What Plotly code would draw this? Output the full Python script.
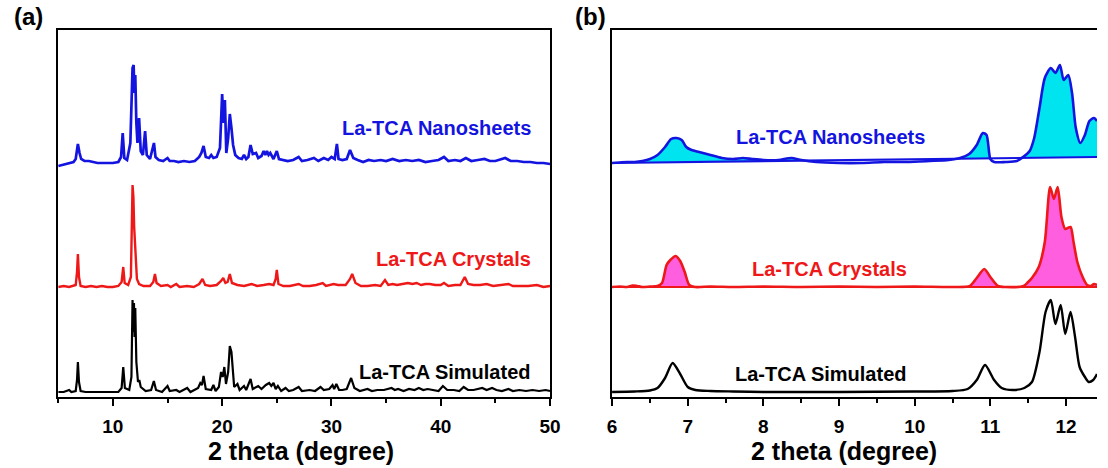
import numpy as np
import plotly.graph_objects as go

# ---------------- Panel (a): 5-50 deg ----------------
nano_a_x = [5.0,5.3,5.6,6.0,6.4,6.6,6.8,6.95,7.1,7.4,7.8,8.2,8.6,9.0,9.5,10.0,10.5,10.75,10.9,11.05,11.3,11.6,11.8,11.9,11.97,12.05,12.15,12.25,12.4,12.55,12.75,12.95,13.1,13.4,13.76,13.9,14.2,14.6,15.0,15.2,15.6,16.0,16.5,17.0,17.5,17.9,18.1,18.3,18.5,18.8,19.0,19.2,19.5,19.8,20.0,20.12,20.25,20.38,20.55,20.7,20.85,21.0,21.2,21.5,21.8,22.0,22.2,22.4,22.6,22.8,23.1,23.3,23.6,23.8,23.95,24.1,24.25,24.4,24.7,25.0,25.2,25.6,26.0,26.5,27.0,27.3,27.8,28.4,28.8,29.3,29.7,30.0,30.3,30.5,30.65,31.0,31.4,31.7,32.0,32.4,32.9,33.4,33.9,34.5,35.0,35.6,36.2,36.8,37.4,38.0,38.6,39.2,39.8,40.3,40.7,41.3,41.8,42.3,42.8,43.4,44.0,44.5,45.0,45.9,46.4,47.0,47.6,48.2,48.8,49.4,50.0]
nano_a_y = [-3,-2,-1,0,1,4,19,10,4,2,2,1,0,0,0,0,1,6,30,5,3,20,95,98,70,88,40,20,45,12,8,32,8,4,20,6,3,2,5,2,2,1,2,1,2,6,10,17,6,5,8,5,6,15,69,40,63,10,25,49,35,18,8,5,4,8,4,6,18,9,10,5,7,12,8,12,8,10,4,12,4,3,2,3,6,2,3,5,2,5,3,6,4,19,4,3,4,13,5,3,1,3,2,3,2,4,2,3,2,3,1,2,3,6,2,3,2,5,2,3,4,2,2,5,2,2,1,1,0,0,-1]

crys_a_x = [5.0,5.5,6.0,6.3,6.6,6.72,6.8,6.9,7.05,7.5,8.0,8.5,9.0,9.5,10.0,10.5,10.8,10.95,11.08,11.4,11.65,11.8,11.88,11.95,12.05,12.2,12.4,12.8,13.4,13.7,13.85,14.0,14.4,15.0,15.3,15.8,16.1,16.8,17.4,17.9,18.2,18.45,18.9,19.5,19.9,20.1,20.3,20.5,20.7,20.9,21.4,22.0,22.7,23.2,23.8,24.3,24.7,24.9,25.0,25.15,25.6,26.2,27.0,27.4,28.0,28.6,29.2,29.5,30.2,30.6,31.3,31.7,31.9,32.2,32.7,33.3,34.0,34.5,34.9,35.2,35.6,36.0,36.5,37.0,37.4,37.8,38.2,38.6,39.0,39.5,40.0,40.3,40.7,41.3,41.8,42.2,42.5,43.0,43.6,44.2,44.8,45.4,46.2,46.6,47.2,48.0,48.8,49.4,50.0]
crys_a_y = [0,1,0,1,2,15,33,10,1,0,1,0,1,0,0,1,5,20,4,2,10,102,90,60,40,8,3,1,1,5,13,4,1,2,0,3,0,1,0,3,8,2,1,2,6,9,4,5,13,4,2,1,3,1,2,3,2,8,17,3,1,1,3,1,1,2,4,1,3,2,2,8,13,4,1,1,2,1,7,2,3,2,3,4,3,4,2,3,3,2,2,4,1,2,2,10,3,2,2,3,1,2,3,1,1,1,2,0,1]

sim_a_x = [5.0,5.5,6.0,6.2,6.6,6.72,6.8,6.9,7.05,7.5,8.5,9.5,10.5,10.8,10.95,11.1,11.5,11.7,11.8,11.87,11.93,11.99,12.05,12.15,12.3,12.42,12.55,13.0,13.5,13.75,13.95,14.5,15.0,15.2,15.8,16.1,16.8,17.1,17.8,18.0,18.15,18.3,18.5,19.0,19.2,19.4,19.7,19.9,20.05,20.2,20.35,20.55,20.7,20.85,20.95,21.1,21.4,21.6,22.0,22.2,22.6,22.8,23.3,23.6,24.0,24.3,24.5,24.7,24.9,25.1,25.4,25.8,26.1,26.5,27.0,27.3,28.0,28.5,29.0,29.3,29.8,30.1,30.25,30.45,30.7,31.0,31.4,31.8,32.1,32.6,33.3,33.7,34.2,34.8,35.5,35.8,36.1,36.6,37.1,37.6,38.0,38.4,38.8,39.3,39.8,40.2,40.6,41.2,41.7,42.1,42.5,43.0,43.5,43.8,44.2,44.7,45.1,45.6,46.2,46.6,47.2,47.8,48.4,49.0,49.6,50.0]
sim_a_y = [0,0,2,0,1,12,30,10,1,0,0,0,0,4,25,4,2,15,92,60,89,55,84,30,10,12,5,1,2,11,2,0,6,1,2,0,4,0,4,9,7,16,3,2,7,1,5,20,15,25,8,20,46,40,25,5,8,2,6,2,13,3,6,3,7,9,6,9,3,6,1,4,1,2,5,1,2,1,5,2,3,7,3,8,2,2,3,14,4,1,3,1,2,2,4,2,3,1,3,2,4,2,3,2,1,6,2,2,1,5,2,2,3,4,2,4,2,1,3,1,2,1,2,1,2,1]

# ---------------- Panel (b): 6-12.4 deg ----------------
nano_b_x = [6.0,6.1,6.2,6.3,6.4,6.5,6.6,6.7,6.78,6.85,6.92,6.98,7.05,7.15,7.3,7.45,7.6,7.73,7.85,8.0,8.2,8.37,8.5,8.7,9.0,9.3,9.6,9.9,10.2,10.45,10.6,10.72,10.82,10.9,10.95,11.0,11.05,11.2,11.35,11.45,11.52,11.58,11.65,11.72,11.8,11.86,11.92,11.97,12.03,12.08,12.13,12.19,12.25,12.31,12.37,12.41]
nano_b_y = [0,0.5,1,1,2,4,8,16,24,25,23,16,13,11,8,5,4,5,4,3,3,5,3,1,0,0,1,1,2,3,5,9,18,30,28,4,1,1,2,7,12,25,55,85,95,90,98,83,88,70,35,20,28,42,45,42]
nano_b_base_x = [6.0, 12.41]
nano_b_base_y = [0, 6]

crys_b_x = [6.0,6.1,6.2,6.27,6.33,6.4,6.5,6.6,6.66,6.72,6.77,6.84,6.9,6.96,7.02,7.1,7.3,7.6,8.0,8.5,9.0,9.5,10.0,10.5,10.73,10.82,10.92,11.0,11.1,11.2,11.44,11.5,11.55,11.64,11.72,11.79,11.84,11.89,11.94,11.99,12.06,12.1,12.15,12.22,12.28,12.33,12.37,12.41]
crys_b_y = [0,0.5,0,1.5,1,0,0.5,1,4,22,27,31,26,15,2,0,0.5,0,0.5,0,0.5,0,0.5,0,1,9,18,10,1,0,1,5,9,20,45,100,88,100,70,58,60,45,25,10,2,1,3,2]

sim_b_x = [6.0,6.3,6.5,6.6,6.7,6.8,6.9,7.0,7.1,7.3,7.6,8.0,9.0,10.0,10.5,10.7,10.82,10.93,11.05,11.15,11.3,11.45,11.55,11.65,11.73,11.8,11.86,11.93,11.99,12.06,12.12,12.18,12.25,12.3,12.36,12.41]
sim_b_y = [0,0.5,1.5,4,14,29,18,5,2,1,0.5,0,0,0.5,1,3,12,27,12,4,2,4,10,40,80,92,68,87,58,80,55,25,15,10,12,18]

# vertical offsets of the stacked patterns (in axis units)
OFF_NANO, OFF_CRYS, OFF_SIM = 234, 110, 5

BLUE = "rgb(20,20,225)"
RED = "rgb(238,24,24)"
BLACK = "black"
CYAN = "rgb(0,228,240)"
MAGENTA = "rgb(255,95,222)"

W, H = 1108, 468
def px(x): return x / W
def py(y): return 1 - y / H

fig = go.Figure()

def add_line(x, y, color, xa, ya, width=2.2, shape="linear"):
    fig.add_trace(go.Scatter(x=x, y=y, mode="lines",
                             line=dict(color=color, width=width, shape=shape, smoothing=0.7),
                             xaxis=xa, yaxis=ya, showlegend=False, hoverinfo="skip"))

# panel (a)
add_line(nano_a_x, [v + OFF_NANO for v in nano_a_y], BLUE, "x", "y", 2.7)
add_line(crys_a_x, [v + OFF_CRYS for v in crys_a_y], RED, "x", "y", 2.4)
add_line(sim_a_x, [v + OFF_SIM for v in sim_a_y], BLACK, "x", "y", 2.2)

# panel (b) filled patterns
def add_filled(x, y, base_x, base_y, off, line_color, fill_color):
    x = np.array(x, float)
    y = np.array(y, float) + off
    base = np.interp(x, base_x, base_y) + off
    top = np.maximum(y, base)
    fig.add_trace(go.Scatter(x=x, y=base, mode="lines", line=dict(width=0, color=line_color),
                             xaxis="x2", yaxis="y2", showlegend=False, hoverinfo="skip"))
    fig.add_trace(go.Scatter(x=x, y=top, mode="lines",
                             line=dict(width=0, color=line_color, shape="spline", smoothing=0.7),
                             fill="tonexty", fillcolor=fill_color,
                             xaxis="x2", yaxis="y2", showlegend=False, hoverinfo="skip"))
    add_line(list(x), list(base), line_color, "x2", "y2", 2.2)
    add_line(list(x), list(y), line_color, "x2", "y2", 2.6, "spline")

add_filled(nano_b_x, nano_b_y, nano_b_base_x, nano_b_base_y, OFF_NANO, BLUE, CYAN)
add_filled(crys_b_x, crys_b_y, [6.0, 12.41], [0, 0], OFF_CRYS, RED, MAGENTA)
add_line(sim_b_x, [v + OFF_SIM for v in sim_b_y], BLACK, "x2", "y2", 2.4, "spline")

tickfont = dict(family="Liberation Sans, Arial", size=19, color="black", weight="bold")
common_x = dict(showline=True, linecolor="black", linewidth=2, ticks="outside", ticklen=7,
                tickwidth=2, tickcolor="black", showgrid=False, zeroline=False, tickfont=tickfont,
                ticklabelstandoff=4)
y_common = dict(range=[0, 367], showline=True, linecolor="black", linewidth=2, showticklabels=False,
                ticks="", showgrid=False, zeroline=False, domain=[py(397), py(30)])

fig.update_layout(
    width=W, height=H, margin=dict(l=0, r=0, t=0, b=0),
    paper_bgcolor="white", plot_bgcolor="white",
    xaxis=dict(common_x, range=[5, 50], domain=[px(54), px(553)], mirror=True,
               tickvals=[10, 20, 30, 40, 50],
               minor=dict(tickvals=[5, 15, 25, 35, 45], ticklen=4, tickwidth=2, tickcolor="black", ticks="outside")),
    yaxis=dict(y_common, mirror=True),
    xaxis2=dict(common_x, range=[6, 12.41], domain=[px(616), 1.0], mirror=True, anchor="y2",
                tickvals=[6, 7, 8, 9, 10, 11, 12],
                minor=dict(tickvals=[6.5, 7.5, 8.5, 9.5, 10.5, 11.5], ticklen=4, tickwidth=2,
                           tickcolor="black", ticks="outside")),
    yaxis2=dict(y_common, anchor="x2", mirror=False),
)

bold = dict(family="Liberation Sans, Arial", weight="bold")
def note(text, x, y, size, color, xanchor="center"):
    fig.add_annotation(text=text, x=px(x), y=py(y), xref="paper", yref="paper", showarrow=False,
                       xanchor=xanchor, yanchor="middle", font=dict(bold, size=size, color=color))

note("(a)", 24, 17, 24, "black")
note("(b)", 594, 17, 24, "black")
note("La-TCA Nanosheets", 536, 128, 20, BLUE, "right")
note("La-TCA Crystals", 536, 259, 20, RED, "right")
note("La-TCA Simulated", 536, 372, 20, BLACK, "right")
note("La-TCA Nanosheets", 838, 137, 20, BLUE)
note("La-TCA Crystals", 837, 269, 20, RED)
note("La-TCA Simulated", 828, 374, 20, BLACK)
note("2 theta (degree)", 300, 451, 25, "black")
note("2 theta (degree)", 851, 451, 25, "black")

fig.write_html("out.html")
